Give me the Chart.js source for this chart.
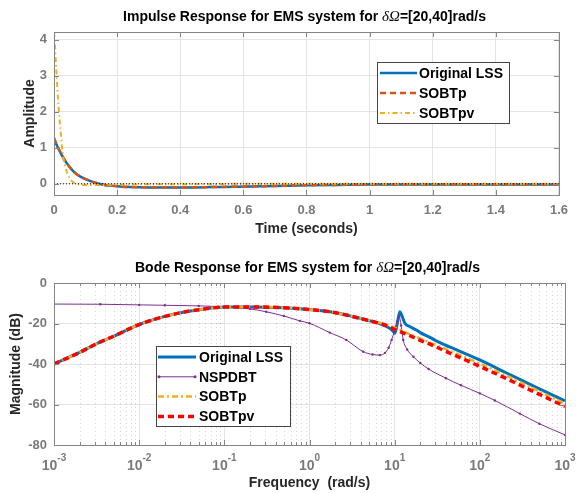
<!DOCTYPE html>
<html>
<head>
<meta charset="utf-8">
<script src="https://cdn.jsdelivr.net/npm/chart.js@4.4.0/dist/chart.umd.min.js"></script>
<style>
    html, body { margin: 0; padding: 0; background: #fff; }
    #wrap { position: relative; width: 576px; height: 493px; }
    canvas { position: absolute; left: 0; }
</style>
</head>
<body>
<div id="wrap">
    <canvas id="impulseChart" width="576" height="247" style="top:0"></canvas>
    <canvas id="bodeChart" width="576" height="246" style="top:247px"></canvas>
</div>
<script>
// ====================================
// DATOS: RESPUESTA AL IMPULSO
// ====================================
const impulseTicksX = [0, 0.2, 0.4, 0.6, 0.8, 1, 1.2, 1.4, 1.6];
const impulseTicksY = [0, 1, 2, 3, 4];

const tLss = [0, 0.01, 0.02, 0.03, 0.04, 0.05, 0.06, 0.07, 0.08, 0.09, 0.1, 0.12, 0.14, 0.16, 0.18, 0.2, 0.24, 0.3, 0.36, 0.43, 0.5, 0.58, 0.7, 0.8, 0.9, 1.0, 1.2, 1.4, 1.6];
const yLss = [1.25, 1.05, 0.87, 0.71, 0.58, 0.46, 0.36, 0.28, 0.22, 0.17, 0.13, 0.06, 0.01, -0.03, -0.05, -0.07, -0.09, -0.1, -0.1, -0.1, -0.09, -0.08, -0.06, -0.04, -0.03, -0.02, -0.02, -0.02, -0.02];
const ySobtp = [1.27, 1.06, 0.88, 0.72, 0.58, 0.46, 0.36, 0.28, 0.22, 0.17, 0.13, 0.06, 0.01, -0.03, -0.05, -0.07, -0.09, -0.1, -0.1, -0.1, -0.09, -0.08, -0.06, -0.04, -0.03, -0.02, -0.02, -0.02, -0.02];

const tSobtpv = [0, 0.002, 0.006, 0.0084, 0.012, 0.0157, 0.02, 0.025, 0.03, 0.035, 0.04, 0.049, 0.06, 0.07, 0.08, 0.09, 0.1, 0.15, 0.2, 0.3, 0.4, 0.6, 0.8, 1.0, 1.2, 1.4, 1.6];
const ySobtpv = [4.21, 4.0, 3.35, 3.0, 2.45, 2.0, 1.55, 1.05, 0.7, 0.5, 0.35, 0.16, 0.05, 0.0, -0.02, -0.03, -0.03, -0.03, -0.02, -0.01, -0.01, 0, 0, 0, 0, 0, 0];

const tZero = [0, 1.6];
const yZero = [0, 0];

// ====================================
// DATOS: RESPUESTA DE BODE
// ====================================
const bodeTicksX = [0.001, 0.01, 0.1, 1, 10, 100, 1000];
const bodeTicksY = [-80, -60, -40, -20, 0];

const wLss = [0.001, 0.002, 0.00316, 0.005, 0.01, 0.02, 0.033, 0.05, 0.1, 0.2, 0.5, 1, 1.73, 2.7, 4, 5.5, 6.7, 8, 9, 9.6, 10, 10.5, 11, 11.5, 12, 13.2, 15, 18, 20, 25, 30, 40, 50, 100, 200, 500, 1000];
const magLss = [-40, -34.3, -30, -26.3, -20.5, -16.5, -14.4, -13.2, -11.9, -11.8, -12.2, -13.1, -14.2, -15.8, -17.5, -19, -20, -21.5, -22.7, -23.8, -24.8, -22, -17.5, -14.2, -15.5, -19.9, -21.5, -23.2, -24.5, -26.5, -28.3, -30.8, -32.5, -38, -44.2, -52.3, -58.2];

const wNspdbt = [0.001, 0.0035, 0.01, 0.02, 0.05, 0.1, 0.2, 0.31, 0.5, 0.77, 1, 1.73, 2.7, 4.27, 5.5, 6.7, 7.7, 8.5, 9.2, 10, 10.7, 11.3, 11.9, 12.6, 14, 16.6, 20, 25, 40, 60, 100, 150, 295, 500, 1000];
const magNspdbt = [-10.4, -10.5, -10.8, -11, -11.3, -11.8, -12.8, -14.2, -16.3, -18.7, -19.9, -24.5, -28.1, -33.9, -35.3, -35.6, -34.5, -32, -28.1, -23.5, -19, -16.6, -21, -28.1, -32.8, -36.4, -39.5, -42.5, -47, -50.5, -54.5, -58, -64.5, -69.5, -75];

const wSobtp = [0.001, 0.002, 0.00316, 0.005, 0.01, 0.02, 0.033, 0.05, 0.1, 0.2, 0.5, 1, 1.73, 2.7, 4, 5.5, 6.7, 8, 10, 12, 15, 20, 26, 40, 60, 100, 200, 500, 1000];
const magSobtp = [-40, -34.3, -30, -26.3, -20.5, -16.5, -14.4, -13.2, -11.9, -11.8, -12.2, -13.1, -14.2, -15.8, -17.5, -18.8, -19.7, -20.6, -22, -23.5, -25.3, -27.4, -29.4, -32.7, -35.8, -39.8, -45.5, -53.5, -59.6];
const magSobtpv = [-40, -34.3, -30, -26.3, -20.5, -16.5, -14.4, -13.2, -11.9, -11.8, -12.2, -13.1, -14.2, -15.8, -17.6, -19, -20, -21, -22.9, -24.3, -26, -28.3, -30.2, -33.8, -37, -41.2, -47, -55, -61];

// ====================================
// ESTILO
// ====================================
const FONT = 'Arial, "Liberation Sans", Helvetica, sans-serif';
const BOX_COLOR = '#858585';
const TICK_COLOR = '#7a7a7a';
const GRID_COLOR = '#e4e4e4';
const LABEL_COLOR = '#262626';

function toPoints(xs, ys) {
    return xs.map((x, i) => ({ x: x, y: ys[i] }));
}

// Plugin: caja, marcas, rejilla menor, titulo y leyenda al estilo MATLAB
function matlabAxesPlugin(cfg) {
    return {
        id: 'matlabAxes',
        beforeDatasetsDraw(chart) {
            if (!cfg.minorLog) return;
            const { ctx, chartArea: a, scales: { x } } = chart;
            ctx.save();
            ctx.strokeStyle = 'rgba(0,0,0,0.16)';
            ctx.lineWidth = 1;
            ctx.setLineDash([1, 3]);
            for (let d = -3; d < 3; d++) {
                for (let m = 2; m <= 9; m++) {
                    const px = Math.round(x.getPixelForValue(m * Math.pow(10, d))) + 0.5;
                    ctx.beginPath();
                    ctx.moveTo(px, a.top);
                    ctx.lineTo(px, a.bottom);
                    ctx.stroke();
                }
            }
            ctx.restore();
        },
        afterDraw(chart) {
            const { ctx, chartArea: a, scales: { x, y } } = chart;
            ctx.save();

            // caja
            ctx.strokeStyle = BOX_COLOR;
            ctx.lineWidth = 1;
            ctx.setLineDash([]);
            ctx.strokeRect(Math.round(a.left) + 0.5, Math.round(a.top) + 0.5,
                Math.round(a.right - a.left), Math.round(a.bottom - a.top));

            // marcas hacia dentro
            ctx.beginPath();
            x.ticks.forEach(t => {
                const px = Math.round(x.getPixelForValue(t.value)) + 0.5;
                ctx.moveTo(px, a.bottom); ctx.lineTo(px, a.bottom - 5);
                ctx.moveTo(px, a.top); ctx.lineTo(px, a.top + 5);
            });
            y.ticks.forEach(t => {
                const py = Math.round(y.getPixelForValue(t.value)) + 0.5;
                ctx.moveTo(a.left, py); ctx.lineTo(a.left + 5, py);
                ctx.moveTo(a.right, py); ctx.lineTo(a.right - 5, py);
            });
            if (cfg.minorLog) {
                for (let d = -3; d < 3; d++) {
                    for (let m = 2; m <= 9; m++) {
                        const px = Math.round(x.getPixelForValue(m * Math.pow(10, d))) + 0.5;
                        ctx.moveTo(px, a.bottom); ctx.lineTo(px, a.bottom - 3);
                        ctx.moveTo(px, a.top); ctx.lineTo(px, a.top + 3);
                    }
                }
            }
            ctx.stroke();

            // etiquetas 10^n
            if (cfg.minorLog) {
                ctx.fillStyle = TICK_COLOR;
                ctx.textBaseline = 'alphabetic';
                ctx.textAlign = 'left';
                x.ticks.forEach(t => {
                    const px = x.getPixelForValue(t.value);
                    const exp = String(Math.round(Math.log10(t.value)));
                    ctx.font = 'bold 14px ' + FONT;
                    const wb = ctx.measureText('10').width;
                    ctx.font = 'bold 10px ' + FONT;
                    const we = ctx.measureText(exp).width;
                    const x0 = px - (wb + we) / 2;
                    ctx.font = 'bold 14px ' + FONT;
                    ctx.fillText('10', x0, a.bottom + 25);
                    ctx.font = 'bold 10px ' + FONT;
                    ctx.fillText(exp, x0 + wb, a.bottom + 16);
                });
            }

            // titulo con delta Omega en cursiva
            const parts = cfg.title;
            const fonts = parts.map(p => p.italic ? 'italic 15px "Liberation Serif", "Times New Roman", serif' : 'bold 14px ' + FONT);
            let total = 0;
            const widths = parts.map((p, i) => { ctx.font = fonts[i]; const w = ctx.measureText(p.text).width; total += w; return w; });
            let tx = (a.left + a.right) / 2 - total / 2 - 2;
            ctx.fillStyle = '#000';
            ctx.textBaseline = 'middle';
            ctx.textAlign = 'left';
            parts.forEach((p, i) => {
                ctx.font = fonts[i];
                ctx.fillText(p.text, tx, cfg.titleY);
                tx += widths[i];
            });

            // leyenda
            const lg = cfg.legend;
            ctx.fillStyle = '#fff';
            ctx.fillRect(lg.x, lg.y, lg.w, lg.h);
            ctx.strokeStyle = '#444';
            ctx.lineWidth = 1;
            ctx.strokeRect(lg.x + 0.5, lg.y + 0.5, lg.w, lg.h);
            lg.items.forEach((idx, i) => {
                const ds = chart.data.datasets[idx];
                const ly = lg.y + lg.first + i * lg.step;
                ctx.strokeStyle = ds.borderColor;
                ctx.lineWidth = ds.borderWidth;
                ctx.setLineDash(ds.borderDash || []);
                ctx.beginPath();
                ctx.moveTo(lg.x + lg.lineX0, ly);
                ctx.lineTo(lg.x + lg.lineX1, ly);
                ctx.stroke();
                ctx.setLineDash([]);
                if (ds.pointRadius > 0) {
                    ctx.fillStyle = ds.borderColor;
                    [lg.lineX0 + 1, lg.lineX1 - 1].forEach(px => {
                        ctx.beginPath();
                        ctx.arc(lg.x + px, ly, 1.5, 0, Math.PI * 2);
                        ctx.fill();
                    });
                }
                ctx.fillStyle = '#000';
                ctx.font = 'bold 14px ' + FONT;
                ctx.textBaseline = 'middle';
                ctx.fillText(ds.label, lg.x + lg.textX, ly + 1);
            });
            ctx.restore();
        }
    };
}

function baseScale(extra) {
    return Object.assign({
        grid: { color: GRID_COLOR, drawTicks: false },
        border: { display: false },
        ticks: { color: TICK_COLOR, font: { family: FONT, size: 13, weight: 'bold' }, maxRotation: 0, autoSkip: false },
        title: { display: true, color: LABEL_COLOR, font: { family: FONT, size: 14, weight: 'bold' } }
    }, extra);
}

// ====================================
// GRAFICO 1: IMPULSO
// ====================================
function renderImpulseChart() {
    const ctx = document.getElementById('impulseChart').getContext('2d');
    const xs = baseScale({ type: 'linear', min: 0, max: 1.6 });
    xs.afterBuildTicks = s => { s.ticks = impulseTicksX.map(v => ({ value: v })); };
    xs.afterFit = s => { s.height = 52; };
    xs.ticks = Object.assign({}, xs.ticks, { padding: 8, callback: v => String(v) });
    xs.title = Object.assign({}, xs.title, { text: 'Time (seconds)', padding: { top: 0, bottom: 9 } });

    const ys = baseScale({ type: 'linear', min: -0.31, max: 4.21 });
    ys.afterBuildTicks = s => { s.ticks = impulseTicksY.map(v => ({ value: v })); };
    ys.afterFit = s => { s.width = 54; };
    ys.ticks = Object.assign({}, ys.ticks, { padding: 7, callback: v => String(v) });
    ys.title = Object.assign({}, ys.title, { text: 'Amplitude', padding: { top: 22, bottom: 0 } });

    new Chart(ctx, {
        type: 'line',
        data: {
            datasets: [
                { label: 'Original LSS', data: toPoints(tLss, yLss), borderColor: '#0072BD', borderWidth: 2.5, order: 4 },
                { label: 'SOBTp', data: toPoints(tLss, ySobtp), borderColor: '#D95319', borderWidth: 2.5, borderDash: [6, 4], order: 3 },
                { label: 'SOBTpv', data: toPoints(tSobtpv, ySobtpv), borderColor: '#EDB120', borderWidth: 2, borderDash: [5, 3, 1.5, 3], order: 2 },
                { label: 'zero', data: toPoints(tZero, yZero), borderColor: '#000', borderWidth: 1, borderDash: [1, 2], order: 1 }
            ]
        },
        options: {
            responsive: false,
            animation: false,
            layout: { padding: { top: 32, right: 11, left: 0, bottom: 0 } },
            elements: { point: { radius: 0 }, line: { cubicInterpolationMode: 'monotone', fill: false } },
            plugins: { legend: { display: false }, title: { display: false }, tooltip: { enabled: false } },
            scales: { x: xs, y: ys }
        },
        plugins: [matlabAxesPlugin({
            minorLog: false,
            titleY: 17,
            title: [{ text: 'Impulse Response for EMS system for ' }, { text: 'δΩ', italic: true }, { text: '=[20,40]rad/s' }],
            legend: { x: 377, y: 62, w: 132, h: 61, first: 11, step: 20, lineX0: 3, lineX1: 40, textX: 42, items: [0, 1, 2] }
        })]
    });
}

// ====================================
// GRAFICO 2: BODE
// ====================================
function renderBodeChart() {
    const ctx = document.getElementById('bodeChart').getContext('2d');
    const xs = baseScale({ type: 'logarithmic', min: 0.001, max: 1000 });
    xs.afterBuildTicks = s => { s.ticks = bodeTicksX.map(v => ({ value: v, major: true })); };
    xs.afterFit = s => { s.height = 48; };
    xs.ticks = Object.assign({}, xs.ticks, { callback: () => '' });
    xs.title = Object.assign({}, xs.title, { text: 'Frequency  (rad/s)', padding: { top: 0, bottom: 1 } });

    const ys = baseScale({ type: 'linear', min: -80, max: 0 });
    ys.afterBuildTicks = s => { s.ticks = bodeTicksY.map(v => ({ value: v })); };
    ys.afterFit = s => { s.width = 54; };
    ys.ticks = Object.assign({}, ys.ticks, { padding: 7, callback: v => String(v) });
    ys.title = Object.assign({}, ys.title, { text: 'Magnitude (dB)', padding: { top: 8, bottom: 0 } });

    new Chart(ctx, {
        type: 'line',
        data: {
            datasets: [
                { label: 'Original LSS', data: toPoints(wLss, magLss), borderColor: '#0072BD', borderWidth: 3, order: 4 },
                { label: 'NSPDBT', data: toPoints(wNspdbt, magNspdbt), borderColor: '#7E2F8E', borderWidth: 1, pointRadius: 1.2, pointBackgroundColor: '#7E2F8E', pointBorderWidth: 0, order: 3 },
                { label: 'SOBTp', data: toPoints(wSobtp, magSobtp), borderColor: '#EDB120', borderWidth: 2.5, borderDash: [6, 3, 2, 3], order: 2 },
                { label: 'SOBTpv', data: toPoints(wSobtp, magSobtpv), borderColor: '#FF0000', borderWidth: 3.5, borderDash: [6, 4], order: 1 }
            ]
        },
        options: {
            responsive: false,
            animation: false,
            layout: { padding: { top: 36, right: 11, left: 0, bottom: 0 } },
            elements: { point: { radius: 0 }, line: { cubicInterpolationMode: 'monotone', fill: false } },
            plugins: { legend: { display: false }, title: { display: false }, tooltip: { enabled: false } },
            scales: { x: xs, y: ys }
        },
        plugins: [matlabAxesPlugin({
            minorLog: true,
            titleY: 21,
            title: [{ text: 'Bode Response for EMS system for ' }, { text: 'δΩ', italic: true }, { text: '=[20,40]rad/s' }],
            legend: { x: 156, y: 99, w: 134, h: 80, first: 11, step: 19.8, lineX0: 2, lineX1: 40, textX: 43, items: [0, 1, 2, 3] }
        })]
    });
}

renderImpulseChart();
renderBodeChart();
</script>
</body>
</html>
